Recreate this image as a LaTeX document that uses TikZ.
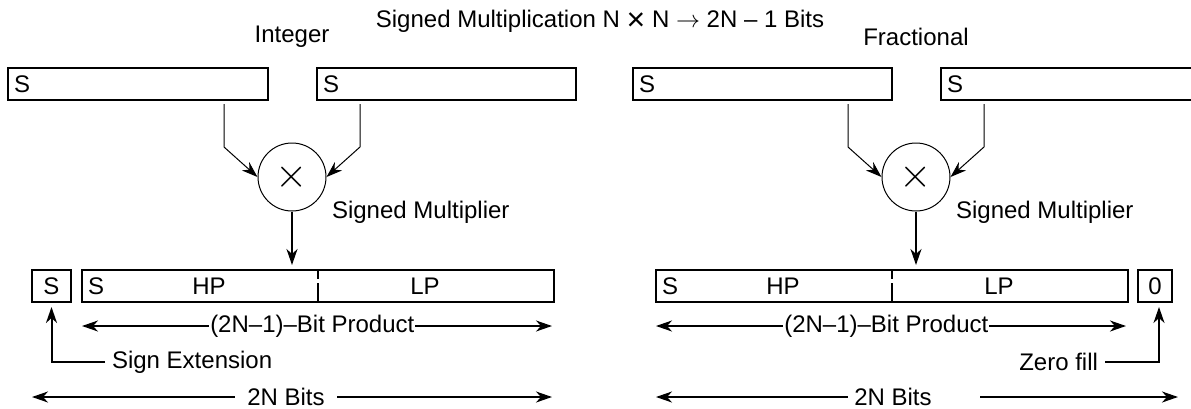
\documentclass[tikz,border=0pt]{standalone}
\usepackage{fontspec}
\setmainfont{Liberation Sans}
\usetikzlibrary{arrows.meta}

\begin{document}
\begin{tikzpicture}[x=0.5pt, y=-0.5pt, font=\fontsize{12}{14}\selectfont,
    regbox/.style={draw, line width=1pt, minimum height=16pt, inner sep=0pt, anchor=north west},
    mult/.style={draw, circle, line width=0.5pt, minimum size=34pt, inner sep=0pt},
    tip/.style={-{Stealth[length=8pt,width=5.5pt,inset=2.5pt]}},
    feed/.style={tip, line width=0.5pt},
    flow/.style={tip, line width=1pt},
    span/.style={line width=1pt, {Stealth[length=8pt,width=5.5pt,inset=2.5pt]}-{Stealth[length=8pt,width=5.5pt,inset=2.5pt]}},
    split/.style={line width=1pt, dash pattern=on 5pt off 2pt on 30pt off 1pt}]
    \useasboundingbox (0,0) rectangle (1191,408);

    \node[inner sep=1pt] (title) at (600,21) {Signed Multiplication N \raisebox{-1.5pt}{\fontsize{16}{12}\selectfont ×} N $\rightarrow$ 2N – 1 Bits};
    \node (intL) at (292,37) {Integer};
    \node (fracR) at (916,37) {Fractional};

    % integer
    \node[regbox, minimum width=130pt] (inA) at (7,67) {};
    \node[regbox, minimum width=129.5pt] (inB) at (316,67) {};
    \node[anchor=west] at (inA.west) {S};
    \node[anchor=west] at (inB.west) {S};
    \node[mult] (mulL) at (292,177) {\fontsize{20}{20}\selectfont$\times$};
    \node[anchor=west] (labL) at (325,212) {Signed Multiplier};
    \coordinate (tapA) at (224,104);
    \coordinate (tapB) at (360,104);
    \draw[feed] (tapA) -- ++(0,43) -- (mulL.west);
    \draw[feed] (tapB) -- ++(0,43) -- (mulL.east);

    \node[regbox, minimum width=19.5pt] (sgnL) at (31,269) {S};
    \node[regbox, minimum width=236pt] (prodL) at (81,269) {};
    \node[anchor=west] at (prodL.west) {S};
    \node at ([xshift=-54.5pt]prodL.center) {HP};
    \node at ([xshift=53.5pt]prodL.center) {LP};
    \draw[split] (prodL.north) -- (prodL.south);
    \draw[flow, shorten >=2pt] (mulL.south) -- (mulL.south |- prodL.north);

    \coordinate (pL1) at (82,326);
    \coordinate (pL2) at (552,326);
    \draw[span] (pL1) -- node[pos=0.49, fill=white, inner sep=0.5pt] {(2N–1)–Bit Product} (pL2);
    \node[anchor=west] (extL) at (105,362) {Sign Extension};
    \draw[flow, shorten >=2pt] (extL.west) -| (sgnL.south);
    \node[inner sep=6pt] (bitsL) at (286,397) {2N Bits};
    \coordinate (bL1) at (32,397);
    \coordinate (bL2) at (552,397);
    \draw[flow] (bitsL.west) -- (bL1);
    \draw[flow] (bitsL.east) -- (bL2);

    % fractional
    \node[regbox, minimum width=129.5pt] (inC) at (632,67) {};
    \node[regbox, minimum width=131pt] (inD) at (940,67) {};
    \node[anchor=west] at (inC.west) {S};
    \node[anchor=west] at (inD.west) {S};
    \node[mult] (mulR) at (916,177) {\fontsize{20}{20}\selectfont$\times$};
    \node[anchor=west] (labR) at (949,212) {Signed Multiplier};
    \coordinate (tapC) at (848,104);
    \coordinate (tapD) at (984,104);
    \draw[feed] (tapC) -- ++(0,43) -- (mulR.west);
    \draw[feed] (tapD) -- ++(0,43) -- (mulR.east);

    \node[regbox, minimum width=236pt] (prodR) at (655,269) {};
    \node[regbox, minimum width=17pt] (zeroR) at (1137,269) {0};
    \node[anchor=west] at (prodR.west) {S};
    \node at ([xshift=-54.5pt]prodR.center) {HP};
    \node at ([xshift=53.5pt]prodR.center) {LP};
    \draw[split] (prodR.north) -- (prodR.south);
    \draw[flow, shorten >=2pt] (mulR.south) -- (mulR.south |- prodR.north);

    \coordinate (pR1) at (656,326);
    \coordinate (pR2) at (1126,326);
    \draw[span] (pR1) -- node[pos=0.49, fill=white, inner sep=0.5pt] {(2N–1)–Bit Product} (pR2);
    \node[anchor=east] (fillR) at (1105,362) {Zero fill};
    \draw[flow, shorten >=2pt] (fillR.east) -| ([xshift=2pt]zeroR.south);
    \node[inner sep=3pt] (bitsR) at (893,397) {2N Bits};
    \coordinate (bR1) at (656,397);
    \coordinate (bR2) at (1178,397);
    \draw[flow] (bitsR.west) -- (bR1);
    \draw[flow] ([xshift=21pt]bitsR.east) -- (bR2);
\end{tikzpicture}
\end{document}
